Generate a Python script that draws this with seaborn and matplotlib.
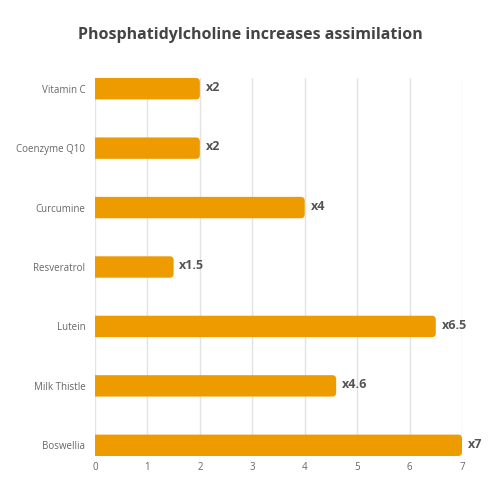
import matplotlib
matplotlib.use('Agg')
from matplotlib import pyplot as plt
from matplotlib.patches import FancyBboxPatch
import pandas as pd
import seaborn as sns

# Data
supplements = ['Vitamin C', 'Coenzyme Q10', 'Curcumine', 'Resveratrol',
               'Lutein', 'Milk Thistle', 'Boswellia']
factors = [2, 2, 4, 1.5, 6.5, 4.6, 7]
factor_labels = ['x2', 'x2', 'x4', 'x1.5', 'x6.5', 'x4.6', 'x7']

bar_color = '#EE9B00'

sns.set_style('white')
plt.rcParams['font.family'] = ['Open Sans', 'DejaVu Sans']

df = pd.DataFrame({'supplement': supplements, 'factor': factors})

fig = plt.figure(figsize=(5, 5), dpi=100)
ax = fig.add_axes([0.19, 0.088, 0.734, 0.756])

sns.barplot(data=df, x='factor', y='supplement', color=bar_color,
            saturation=1, width=0.36, ax=ax, zorder=3)

ax.set_xlim(0, 7)
ax.set_ylim(6.18, -0.18)
ax.set_xticks(range(0, 8))

# swap seaborn's bars for ones with a rounded right end;
# the left end starts before 0 so the axes clip makes it square
radius = 0.075
aspect = 52.4 / 59.4
overhang = 0.3
for patch in list(ax.patches):
    x0, y0 = patch.get_x(), patch.get_y()
    w, h = patch.get_width(), patch.get_height()
    rounded = FancyBboxPatch((x0 - overhang, y0), w + overhang, h,
                             boxstyle=f'round,pad=0,rounding_size={radius}',
                             mutation_aspect=aspect, facecolor=bar_color,
                             edgecolor='none', zorder=3)
    ax.add_patch(rounded)
    patch.set_visible(False)

for i, (val, lab) in enumerate(zip(factors, factor_labels)):
    ax.text(val + 0.11, i - 0.02, lab, va='center', ha='left', fontsize=9,
            fontweight='bold', color='#555555')

ax.grid(axis='x', color='#e3e3e3', linewidth=1, zorder=0)
ax.set_axisbelow(True)
sns.despine(ax=ax, left=True, bottom=True)
ax.tick_params(axis='both', length=0, labelsize=7, colors='#666666')
ax.tick_params(axis='y', pad=7)
ax.tick_params(axis='x', pad=4)
ax.set_xlabel('')
ax.set_ylabel('')

fig.text(0.5, 0.93, 'Phosphatidylcholine increases assimilation',
         ha='center', va='center', fontsize=11.5, fontweight='bold',
         color='#444444')

fig.savefig('out.png', dpi=100)
